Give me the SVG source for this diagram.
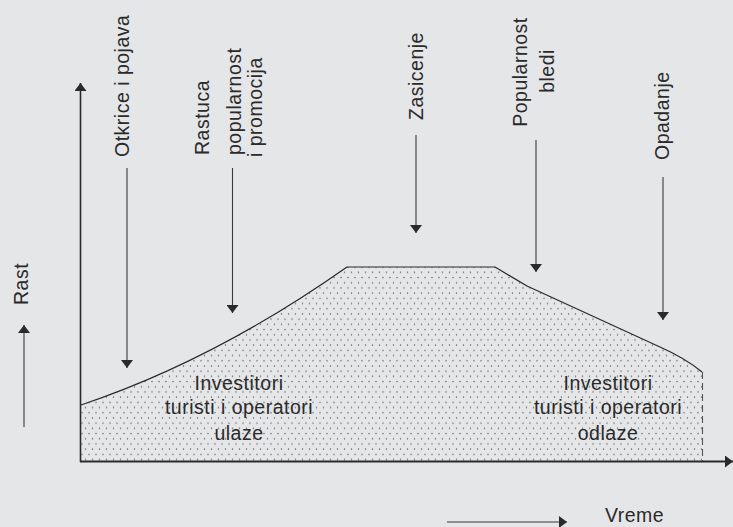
<svg xmlns="http://www.w3.org/2000/svg" width="733" height="527" viewBox="0 0 733 527">
  <style>
    .lbl { font-family: "Liberation Sans", Arial, sans-serif; font-size: 19.5px; letter-spacing: 0.5px; fill: #2a2a2a; }
    .ax { stroke: #2a2a2a; fill: none; }
    .arr { stroke: #3a3a3a; stroke-width: 1.1; fill: none; marker-end: url(#ah); }
    .curve { fill: url(#dots); }
  </style>
  <defs>
    <marker id="ah" viewBox="0 0 8 12" refX="8" refY="6" markerWidth="8" markerHeight="12" markerUnits="userSpaceOnUse" orient="auto">
      <path d="M0,0 L8,6 L0,12 z" fill="#2a2a2a"/>
    </marker>
    <pattern id="dots" width="7" height="10.4" patternUnits="userSpaceOnUse">
      <circle cx="1.5" cy="2" r="0.75" fill="#666"/>
      <circle cx="5" cy="7.2" r="0.75" fill="#666"/>
    </pattern>
  </defs>
  <rect x="0" y="0" width="733" height="527" fill="#e5e6e8"/>

  <g id="area">
    <path class="curve" d="M81,405 Q215,360 347,267 L495,267 Q510,276 527,286 L660,347 Q685,358 702,372 L702,461 L81,461 Z"/>
    <path class="ax" stroke="#4a4a4a" stroke-width="1.2" d="M81,405 Q215,360 347,267 L495,267 Q510,276 527,286 L660,347 Q685,358 702,372"/>
    <line x1="702.5" y1="372" x2="702.5" y2="461" stroke="#555" stroke-width="1.1" stroke-dasharray="7,4"/>
  </g>

  <g id="axes">
    <line class="ax" x1="80.5" y1="462" x2="80.5" y2="83" stroke-width="1.6" marker-end="url(#ah)"/>
    <line class="ax" x1="80" y1="461.5" x2="733" y2="461.5" stroke-width="2" marker-end="url(#ah)"/>
  </g>

  <g id="connectors">
    <line class="arr" x1="127" y1="168" x2="127" y2="368"/>
    <line class="arr" x1="232.5" y1="168" x2="232.5" y2="313"/>
    <line class="arr" x1="416" y1="135" x2="416" y2="233"/>
    <line class="arr" x1="536" y1="140" x2="536" y2="272"/>
    <line class="arr" x1="663" y1="177" x2="663" y2="320"/>
    <line class="arr" x1="24" y1="427" x2="24" y2="325"/>
    <line class="arr" x1="447" y1="522" x2="567" y2="522"/>
  </g>

  <g id="label-otkrice">
    <text class="lbl" transform="translate(129,157) rotate(-90)">Otkrice i pojava</text>
  </g>
  <g id="label-rastuca">
    <text class="lbl" transform="translate(209,155) rotate(-90)">Rastuca</text>
    <text class="lbl" transform="translate(241,155) rotate(-90)">popularnost</text>
    <text class="lbl" transform="translate(262,157) rotate(-90)">i promocija</text>
  </g>
  <g id="label-zasicenje">
    <text class="lbl" transform="translate(423,120) rotate(-90)">Zasicenje</text>
  </g>
  <g id="label-popularnost">
    <text class="lbl" text-anchor="middle" transform="translate(527,72) rotate(-90)">Popularnost</text>
    <text class="lbl" text-anchor="middle" transform="translate(554,71) rotate(-90)">bledi</text>
  </g>
  <g id="label-opadanje">
    <text class="lbl" transform="translate(669,160) rotate(-90)">Opadanje</text>
  </g>
  <g id="label-rast">
    <text class="lbl" transform="translate(28,305) rotate(-90)">Rast</text>
  </g>
  <g id="label-vreme">
    <text class="lbl" x="605" y="522" letter-spacing="1.2">Vreme</text>
  </g>
  <g id="label-ulaze">
    <text class="lbl" text-anchor="middle" x="239" y="390">Investitori</text>
    <text class="lbl" text-anchor="middle" x="239" y="414">turisti i operatori</text>
    <text class="lbl" text-anchor="middle" x="239" y="440">ulaze</text>
  </g>
  <g id="label-odlaze">
    <text class="lbl" text-anchor="middle" x="608" y="390">Investitori</text>
    <text class="lbl" text-anchor="middle" x="608" y="414">turisti i operatori</text>
    <text class="lbl" text-anchor="middle" x="608" y="440">odlaze</text>
  </g>
</svg>
